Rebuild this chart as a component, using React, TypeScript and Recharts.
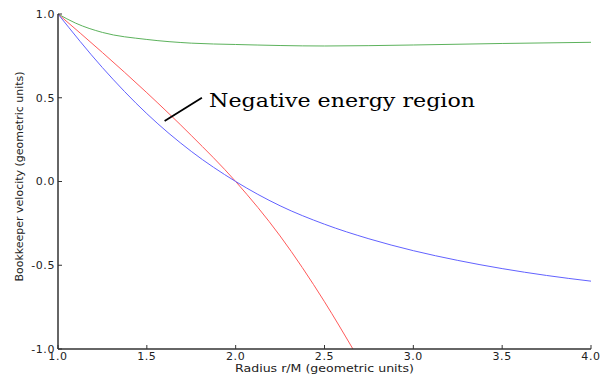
import React from 'react';
import { LineChart, Line, XAxis, YAxis, ReferenceLine, ReferenceDot } from 'recharts';

// radius r/M sample points and read-off velocities
const BLUE_R = [1.0, 1.25, 1.5, 1.75, 2.0, 2.25, 2.5, 2.75, 3.0, 3.25, 3.5, 3.75, 4.0];
const BLUE_V = [1.0, 0.68, 0.405, 0.18, 0.0, -0.145, -0.255, -0.342, -0.413, -0.471, -0.52, -0.561, -0.595];

const RED_R = [1.0, 1.25, 1.5, 1.75, 2.0, 2.25, 2.5, 2.66];
const RED_V = [1.0, 0.77, 0.53, 0.275, 0.0, -0.325, -0.718, -1.0];

const GREEN_R = [1.0, 1.1, 1.25, 1.5, 1.75, 2.0, 2.5, 3.0, 3.5, 4.0];
const GREEN_V = [1.0, 0.945, 0.89, 0.848, 0.826, 0.818, 0.809, 0.815, 0.824, 0.831];

const X_TICKS = [1.0, 1.5, 2.0, 2.5, 3.0, 3.5, 4.0];
const Y_TICKS = [-1.0, -0.5, 0.0, 0.5, 1.0];

const ARROW = [{ x: 1.6, y: 0.361 }, { x: 1.81, y: 0.5 }];
const NOTE = { x: 1.85, y: 0.445, text: 'Negative energy region' };

const zip = (rs: number[], vs: number[]) => rs.map((r, i) => ({ r, v: vs[i] }));
const blueData = zip(BLUE_R, BLUE_V);
const redData = zip(RED_R, RED_V);
const greenData = zip(GREEN_R, GREEN_V);

const AX = '#333';
const FONT = '"DejaVu Sans", sans-serif';

const BottomTick = (p: any) => (
  <g>
    <line x1={p.x} x2={p.x} y1={p.y - 3} y2={p.y - 7} stroke={AX} />
    <text x={p.x} y={p.y} dy="0.71em" textAnchor="middle" fontSize={11} letterSpacing={0.6} fill="#222" fontFamily={FONT}>
      {Number(p.payload.value).toFixed(1)}
    </text>
  </g>
);

const LeftTick = (p: any) => (
  <g>
    <line x1={p.x + 3} x2={p.x + 7} y1={p.y} y2={p.y} stroke={AX} />
    <text x={p.x} y={p.y} dy="0.355em" textAnchor="end" fontSize={11} letterSpacing={0.6} fill="#222" fontFamily={FONT}>
      {Number(p.payload.value).toFixed(1)}
    </text>
  </g>
);

const TopTick = (p: any) => <line x1={p.x} x2={p.x} y1={p.y} y2={p.y + 4} stroke={AX} />;
const RightTick = (p: any) => <line x1={p.x} x2={p.x - 4} y1={p.y} y2={p.y} stroke={AX} />;

const XTitle = (p: any) => {
  const vb = p.viewBox || { x: 0, y: 0, width: 0, height: 0 };
  return (
    <text x={vb.x + vb.width / 2} y={vb.y + vb.height - 3} textAnchor="middle" fontSize={11} fill="#222" fontFamily={FONT}
      textLength={179} lengthAdjust="spacingAndGlyphs">
      Radius r/M (geometric units)
    </text>
  );
};

const YTitle = (p: any) => {
  const vb = p.viewBox || { x: 0, y: 0, width: 0, height: 0 };
  const x = vb.x + 23;
  const y = vb.y + vb.height / 2 - 5;
  return (
    <text x={x} y={y} transform={`rotate(-90 ${x} ${y})`} textAnchor="middle" fontSize={11} fill="#222" fontFamily={FONT}>
      Bookkeeper velocity (geometric units)
    </text>
  );
};

const NoteLabel = (p: any) => {
  const vb = p.viewBox || { x: 0, y: 0 };
  return (
    <text x={vb.x} y={vb.y} fontSize={19} fill="#000" fontFamily='"DejaVu Serif", serif'
      textLength={266} lengthAdjust="spacingAndGlyphs">
      {NOTE.text}
    </text>
  );
};

export default function App() {
  return (
    <div style={{ width: 610, height: 375, background: '#fff' }}>
      <style>{'body{margin:0}'}</style>
      <LineChart width={610} height={375} margin={{ top: 14, right: 19, bottom: 0, left: 0 }}>
        <XAxis
          xAxisId="b"
          dataKey="r"
          type="number"
          domain={[1, 4]}
          ticks={X_TICKS}
          height={26}
          tickSize={0}
          tickMargin={3}
          tick={BottomTick}
          axisLine={{ stroke: AX, strokeWidth: 1.5 }}
          label={<XTitle />}
        />
        <XAxis
          xAxisId="t"
          orientation="top"
          dataKey="r"
          type="number"
          domain={[1, 4]}
          ticks={X_TICKS}
          height={0}
          tickSize={0}
          tickMargin={0}
          tick={TopTick}
          axisLine={{ stroke: AX, strokeWidth: 1.5 }}
        />
        <YAxis
          yAxisId="l"
          type="number"
          domain={[-1, 1]}
          ticks={Y_TICKS}
          width={58}
          tickSize={0}
          tickMargin={3}
          tick={LeftTick}
          axisLine={{ stroke: AX, strokeWidth: 1.5 }}
          label={<YTitle />}
        />
        <YAxis
          yAxisId="r"
          orientation="right"
          type="number"
          domain={[-1, 1]}
          ticks={Y_TICKS}
          width={0}
          tickSize={0}
          tickMargin={0}
          tick={RightTick}
          axisLine={{ stroke: AX, strokeWidth: 1.5 }}
        />
        <Line xAxisId="b" yAxisId="l" data={greenData} dataKey="v" type="monotone" stroke="#5cb25c" strokeWidth={1} dot={false} isAnimationActive={false} />
        <Line xAxisId="b" yAxisId="l" data={redData} dataKey="v" type="monotone" stroke="#ff5a5a" strokeWidth={1} dot={false} isAnimationActive={false} />
        <Line xAxisId="b" yAxisId="l" data={blueData} dataKey="v" type="monotone" stroke="#6262ff" strokeWidth={1} dot={false} isAnimationActive={false} />
        <ReferenceLine xAxisId="b" yAxisId="l" segment={ARROW} stroke="#000" strokeWidth={1.8} />
        <ReferenceDot xAxisId="b" yAxisId="l" x={NOTE.x} y={NOTE.y} r={0} stroke="none" fill="none" label={<NoteLabel />} />
      </LineChart>
    </div>
  );
}
